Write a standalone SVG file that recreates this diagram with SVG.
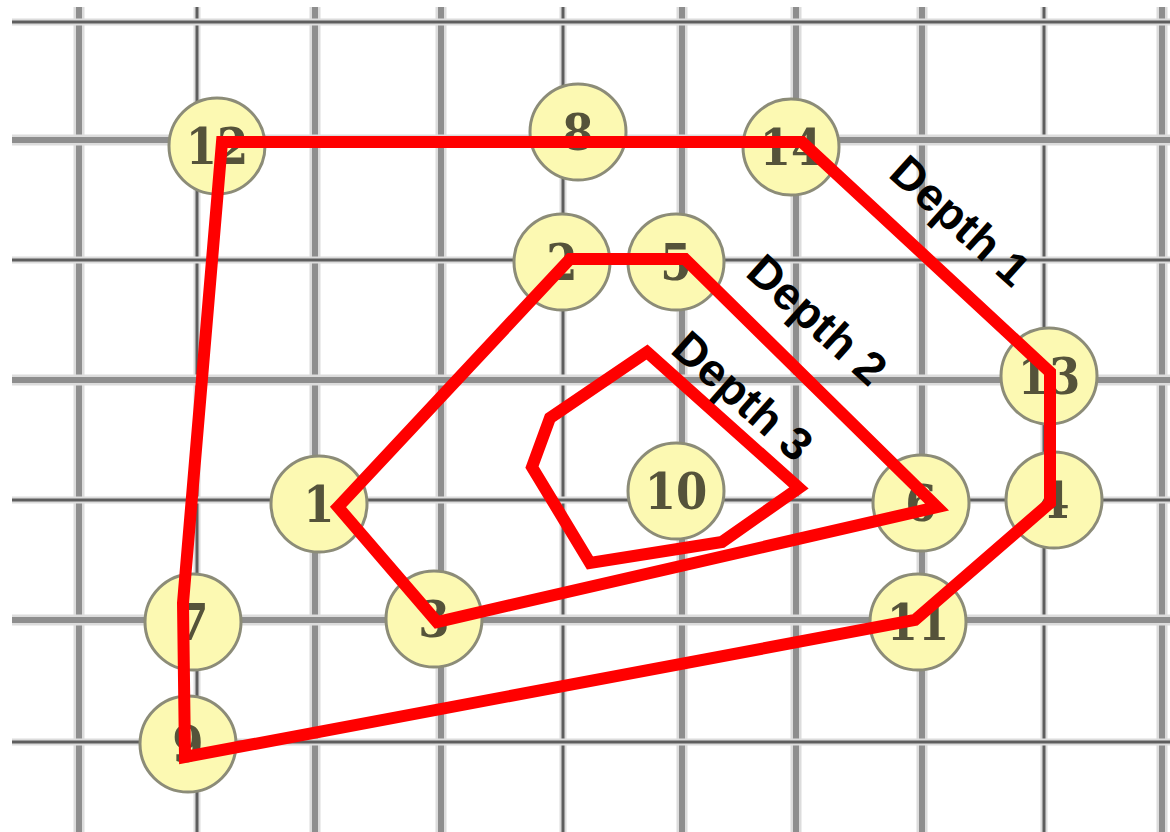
<svg xmlns="http://www.w3.org/2000/svg" width="1170" height="832" viewBox="0 0 1170 832">
<style>
.h{stroke:#dcdcdc;fill:none}
.c{fill:none}
.t .h{stroke-width:7}
.t .c{stroke:#5e5e5e;stroke-width:3}
.k .h{stroke-width:11}
.k .c{stroke:#8e8e8e;stroke-width:6}
.node circle{fill:#fcf9b2;stroke:#8c8c78;stroke-width:3}
.node text{font-family:"DejaVu Serif Condensed","DejaVu Serif",serif;font-weight:bold;font-size:50px;fill:#55533a;text-anchor:middle}
.hull{fill:none;stroke:#ff0000;stroke-width:12;stroke-linejoin:miter}
.lbl{font-family:"Liberation Sans",Arial,sans-serif;font-weight:bold;font-size:46px;fill:#000}
</style>
<rect width="1170" height="832" fill="#fff"/>
<g id="grid">
<g class="k"><path class="h" d="M79 7V832"/><path class="c" d="M79 7V832"/></g>
<g class="t"><path class="h" d="M197 7V832"/><path class="c" d="M197 7V832"/></g>
<g class="k"><path class="h" d="M315 7V832"/><path class="c" d="M315 7V832"/></g>
<g class="k"><path class="h" d="M441 7V832"/><path class="c" d="M441 7V832"/></g>
<g class="t"><path class="h" d="M563 7V832"/><path class="c" d="M563 7V832"/></g>
<g class="k"><path class="h" d="M682 7V832"/><path class="c" d="M682 7V832"/></g>
<g class="k"><path class="h" d="M796 7V832"/><path class="c" d="M796 7V832"/></g>
<g class="k"><path class="h" d="M922 7V832"/><path class="c" d="M922 7V832"/></g>
<g class="t"><path class="h" d="M1044 7V832"/><path class="c" d="M1044 7V832"/></g>
<g class="k"><path class="h" d="M1162 7V832"/><path class="c" d="M1162 7V832"/></g>
<g class="t"><path class="h" d="M12 22H1170"/><path class="c" d="M12 22H1170"/></g>
<g class="k"><path class="h" d="M12 140H1170"/><path class="c" d="M12 140H1170"/></g>
<g class="t"><path class="h" d="M12 260H1170"/><path class="c" d="M12 260H1170"/></g>
<g class="k"><path class="h" d="M12 380H1170"/><path class="c" d="M12 380H1170"/></g>
<g class="t"><path class="h" d="M12 500H1170"/><path class="c" d="M12 500H1170"/></g>
<g class="k"><path class="h" d="M12 620H1170"/><path class="c" d="M12 620H1170"/></g>
<g class="t"><path class="h" d="M12 742H1170"/><path class="c" d="M12 742H1170"/></g>
</g>
<g id="node-12" class="node"><circle cx="217" cy="146" r="48"/><text x="217" y="164">12</text></g>
<g id="node-8" class="node"><circle cx="578" cy="132" r="48"/><text x="578" y="150">8</text></g>
<g id="node-14" class="node"><circle cx="791" cy="147" r="48"/><text x="791" y="165">14</text></g>
<g id="node-2" class="node"><circle cx="562" cy="262" r="48"/><text x="562" y="280">2</text></g>
<g id="node-5" class="node"><circle cx="676" cy="262" r="48"/><text x="676" y="280">5</text></g>
<g id="node-13" class="node"><circle cx="1049" cy="376" r="48"/><text x="1049" y="394">13</text></g>
<g id="node-10" class="node"><circle cx="676" cy="491" r="48"/><text x="676" y="509">10</text></g>
<g id="node-1" class="node"><circle cx="319" cy="504" r="48"/><text x="319" y="522">1</text></g>
<g id="node-6" class="node"><circle cx="921" cy="503" r="48"/><text x="921" y="521">6</text></g>
<g id="node-4" class="node"><circle cx="1054" cy="500" r="48"/><text x="1054" y="518">4</text></g>
<g id="node-11" class="node"><circle cx="918" cy="622" r="48"/><text x="918" y="640">11</text></g>
<g id="node-3" class="node"><circle cx="434" cy="619" r="48"/><text x="434" y="637">3</text></g>
<g id="node-7" class="node"><circle cx="193" cy="622" r="48"/><text x="193" y="640">7</text></g>
<g id="node-9" class="node"><circle cx="188" cy="744" r="48"/><text x="188" y="762">9</text></g>
<g id="connectors">
<polygon class="hull" points="222,142 802,142 1050,372 1050,503 915,620 185,757 183,603"/>
<polygon class="hull" points="338,507 570,259 685,259 937,507 437,622"/>
<polygon class="hull" points="647,352 799,488 722,542 590,563 532,467 550,418"/>
</g>
<g id="labels">
<text class="lbl" transform="translate(887,176) rotate(42)">Depth 1</text>
<text class="lbl" transform="translate(744,275) rotate(42)">Depth 2</text>
<text class="lbl" transform="translate(669,352) rotate(41.5)">Depth 3</text>
</g>
</svg>
